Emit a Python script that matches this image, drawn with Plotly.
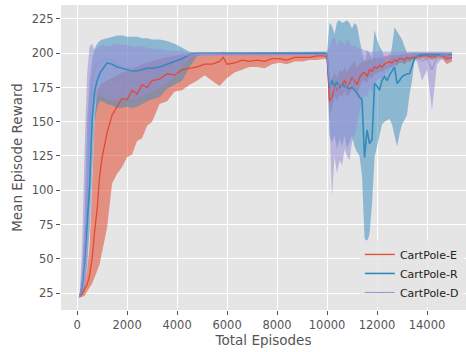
import plotly.graph_objects as go

# Total episodes (shared x grid)
episodes = [100, 200, 300, 400, 500, 600, 700, 800, 900, 1000,
            1200, 1400, 1600, 1800, 2000, 2200, 2400, 2600, 2800, 3000,
            3300, 3600, 3900, 4200, 4500, 4800, 5100, 5400, 5700, 5850,
            6000, 6300, 6600, 6900, 7200, 7500, 7800, 8100, 8400, 8700,
            9000, 9300, 9600, 9900, 10000, 10100, 10200, 10300, 10400, 10500,
            10600, 10700, 10800, 10900, 11000, 11100, 11200, 11300, 11400, 11500,
            11600, 11700, 11800, 11900, 12000, 12100, 12200, 12300, 12400, 12500,
            12600, 12700, 12800, 12900, 13000, 13100, 13200, 13300, 13400, 13500,
            13600, 13800, 14000, 14200, 14400, 14600, 14800, 15000]

# CartPole-E
e_mean = [23, 24, 28, 31, 38, 50, 70, 86, 110, 124,
          142, 155, 161, 167, 166, 173, 170, 177, 175, 180,
          181, 185, 184, 188, 189, 190, 192, 192, 194, 197,
          192, 193, 195, 194, 195, 194, 196, 196, 195, 197,
          197, 197, 198, 198, 197, 165, 168, 176, 172, 178,
          177, 180, 176, 178, 182, 180, 177, 182, 185, 186,
          183, 188, 187, 190, 189, 191, 190, 192, 193, 194,
          193, 195, 194, 196, 196, 195, 197, 196, 197, 197,
          197, 198, 198, 197, 198, 198, 196, 197]
e_low = [22, 22, 23, 26, 29, 32, 36, 41, 46, 55,
         73, 105, 112, 117, 124, 126, 136, 138, 147, 150,
         163, 165, 172, 173, 177, 180, 184, 180, 176, 179,
         182, 186, 188, 190, 190, 189, 192, 193, 192, 194,
         194, 195, 195, 196, 195, 155, 160, 168, 165, 170,
         168, 173, 168, 170, 175, 172, 170, 175, 180, 180,
         178, 183, 182, 185, 185, 187, 186, 188, 189, 190,
         190, 192, 191, 193, 193, 192, 194, 194, 195, 195,
         195, 196, 196, 195, 196, 196, 192, 194]
e_high = [24, 27, 32, 42, 60, 100, 150, 172, 176, 178,
          180, 182, 184, 186, 187, 188, 190, 192, 193, 194,
          196, 197, 198, 199, 199, 199, 199, 199, 200, 201,
          200, 200, 200, 200, 200, 200, 200, 200, 200, 200,
          200, 200, 200, 200, 199, 180, 182, 186, 182, 188,
          186, 190, 186, 190, 192, 194, 190, 192, 194, 195,
          194, 196, 195, 197, 196, 197, 196, 198, 198, 199,
          198, 199, 198, 199, 199, 199, 200, 199, 200, 200,
          200, 200, 200, 200, 200, 200, 200, 200]

# CartPole-R
r_mean = [22, 30, 48, 72, 103, 152, 172, 180, 185, 188,
          193, 192, 190, 189, 188, 187, 187, 188, 189, 189,
          190, 192, 194, 196, 199, 200, 200, 200, 200, 200,
          200, 200, 200, 200, 200, 200, 200, 200, 200, 200,
          200, 200, 200, 200, 199, 175, 180, 176, 179, 175,
          177, 176, 175, 174, 175, 173, 171, 168, 166, 124,
          144, 134, 137, 178, 176, 173, 180, 183, 180, 184,
          187, 190, 178, 180, 183, 184, 185, 185, 190, 196,
          198, 199, 199, 199, 199, 199, 198, 199]
r_low = [21, 24, 30, 45, 70, 110, 150, 160, 165, 165,
         163, 162, 160, 160, 161, 160, 161, 163, 165, 166,
         168, 174, 177, 180, 190, 198, 199, 199, 199, 199,
         199, 199, 199, 199, 199, 199, 199, 199, 199, 199,
         199, 199, 199, 199, 197, 140, 135, 140, 130, 138,
         132, 140, 130, 135, 140, 132, 128, 125, 110, 65,
         62, 68, 90, 124, 132, 140, 148, 150, 151, 152,
         148, 140, 132, 141, 148, 152, 155, 170, 180, 195,
         197, 198, 198, 198, 198, 198, 197, 198]
r_high = [23, 40, 80, 150, 180, 195, 203, 207, 209, 210,
          211, 212, 213, 213, 212, 212, 212, 211, 211, 210,
          210, 209, 207, 204, 201, 200.5, 200.5, 200.5, 200.5, 200.5,
          200.5, 200.5, 200.5, 200.5, 200.5, 200.5, 200.5, 200.5, 200.5, 200.5,
          200.5, 200.5, 200.5, 200.5, 201, 222, 220, 214, 223, 224,
          222, 223, 224, 222, 218, 222, 220, 210, 200, 192,
          202, 200, 196, 217, 210, 205, 202, 195, 190, 195,
          205, 219, 216, 212, 210, 205, 200, 200.5, 200.5, 200.5,
          200.5, 200.5, 200.5, 200.5, 200.5, 200.5, 200.5, 200.5]

# CartPole-D
d_mean = [22, 32, 55, 95, 150, 178, 188, 192, 194, 195,
          196, 195, 192, 190, 189, 189, 190, 191, 192, 193,
          194, 195, 196, 198, 199, 199.5, 199.5, 199.5, 199.5, 199.5,
          199.5, 199.5, 199.5, 199.5, 199.5, 199.5, 199.5, 199.5, 199.5, 199.5,
          199.5, 199.5, 199.5, 199.5, 199, 178, 172, 176, 170, 180,
          175, 172, 178, 176, 180, 182, 185, 186, 188, 190,
          188, 192, 190, 193, 194, 195, 194, 196, 196, 197,
          197, 197, 198, 198, 198, 198, 198, 198, 199, 199,
          198, 194, 196, 188, 197, 199, 198, 198]
d_low = [21, 24, 30, 45, 100, 150, 165, 168, 170, 168,
         167, 165, 166, 167, 166, 166, 167, 169, 170, 172,
         175, 178, 183, 190, 196, 198, 198.5, 198.5, 198.5, 198.5,
         198.5, 198.5, 198.5, 198.5, 198.5, 198.5, 198.5, 198.5, 198.5, 198.5,
         198.5, 198.5, 198.5, 198.5, 197, 140, 95, 125, 112, 122,
         118, 130, 125, 122, 135, 140, 148, 158, 165, 170,
         168, 175, 172, 178, 180, 182, 180, 185, 186, 188,
         190, 191, 192, 193, 194, 194, 195, 195, 196, 196,
         194, 180, 188, 158, 192, 196, 194, 195]
d_high = [23, 60, 130, 185, 205, 207, 202, 204, 205, 206,
          205, 206, 207, 206, 206, 205, 205, 205, 204, 203,
          203, 202, 202, 201, 200.5, 200.5, 200.5, 200.5, 200.5, 200.5,
          200.5, 200.5, 200.5, 200.5, 200.5, 200.5, 200.5, 200.5, 200.5, 200.5,
          200.5, 200.5, 200.5, 200.5, 201, 205, 210, 212, 205, 210,
          208, 206, 210, 208, 205, 206, 204, 203, 203, 202,
          202, 201, 201, 201, 201, 201, 201, 201, 201, 201,
          201, 201, 201, 201, 201, 201, 201, 201, 201, 201,
          201, 201, 201, 201, 201, 201, 201, 201]

x_ticks = [0, 2000, 4000, 6000, 8000, 10000, 12000, 14000]
x_tick_labels = ["0", "2000", "4000", "6000", "8000", "10000", "12000", "14000"]
y_ticks = [25, 50, 75, 100, 125, 150, 175, 200, 225]
y_tick_labels = ["25", "50", "75", "100", "125", "150", "175", "200", "225"]

series = [
    ("CartPole-E", e_mean, e_low, e_high, "#E24A33", "rgba(226,74,51,0.55)", 1.3),
    ("CartPole-R", r_mean, r_low, r_high, "#348ABD", "rgba(52,138,189,0.5)", 1.6),
    ("CartPole-D", d_mean, d_low, d_high, "#988ED5", "rgba(152,142,213,0.55)", 1.0),
]

fig = go.Figure()
for name, m, lo, hi, col, fcol, lw in series:
    fig.add_trace(go.Scatter(
        x=episodes + episodes[::-1], y=hi + lo[::-1],
        fill="toself", fillcolor=fcol, line=dict(width=0),
        mode="lines", showlegend=False, hoverinfo="skip"))
for name, m, lo, hi, col, fcol, lw in series:
    fig.add_trace(go.Scatter(
        x=episodes, y=m, mode="lines", name=name,
        line=dict(color=col, width=lw)))

axis_common = dict(
    showgrid=True, gridcolor="white", gridwidth=1,
    ticks="outside", ticklen=4, tickwidth=1, tickcolor="#555555",
    tickfont=dict(family="DejaVu Sans", size=11.5, color="#555555"),
    zeroline=False, showline=False, automargin=False,
)

fig.update_layout(
    width=466, height=352,
    margin=dict(l=61, r=0, t=5, b=42),
    paper_bgcolor="white", plot_bgcolor="#E5E5E5",
    xaxis=dict(range=[-645, 15560], tickvals=x_ticks, ticktext=x_tick_labels,
               title=dict(text="Total Episodes", standoff=2,
                          font=dict(family="DejaVu Sans", size=13.5, color="#555555")),
               **axis_common),
    yaxis=dict(range=[12.6, 235.2], tickvals=y_ticks, ticktext=y_tick_labels,
               title=dict(text="Mean Episode Reward", standoff=6,
                          font=dict(family="DejaVu Sans", size=13.5, color="#555555")),
               **axis_common),
    legend=dict(x=0.738, y=0.01, xanchor="left", yanchor="bottom",
                bgcolor="rgba(229,229,229,0.8)",
                font=dict(family="DejaVu Sans", size=11, color="#222222")),
    showlegend=True,
)

fig.write_html("out.html")
